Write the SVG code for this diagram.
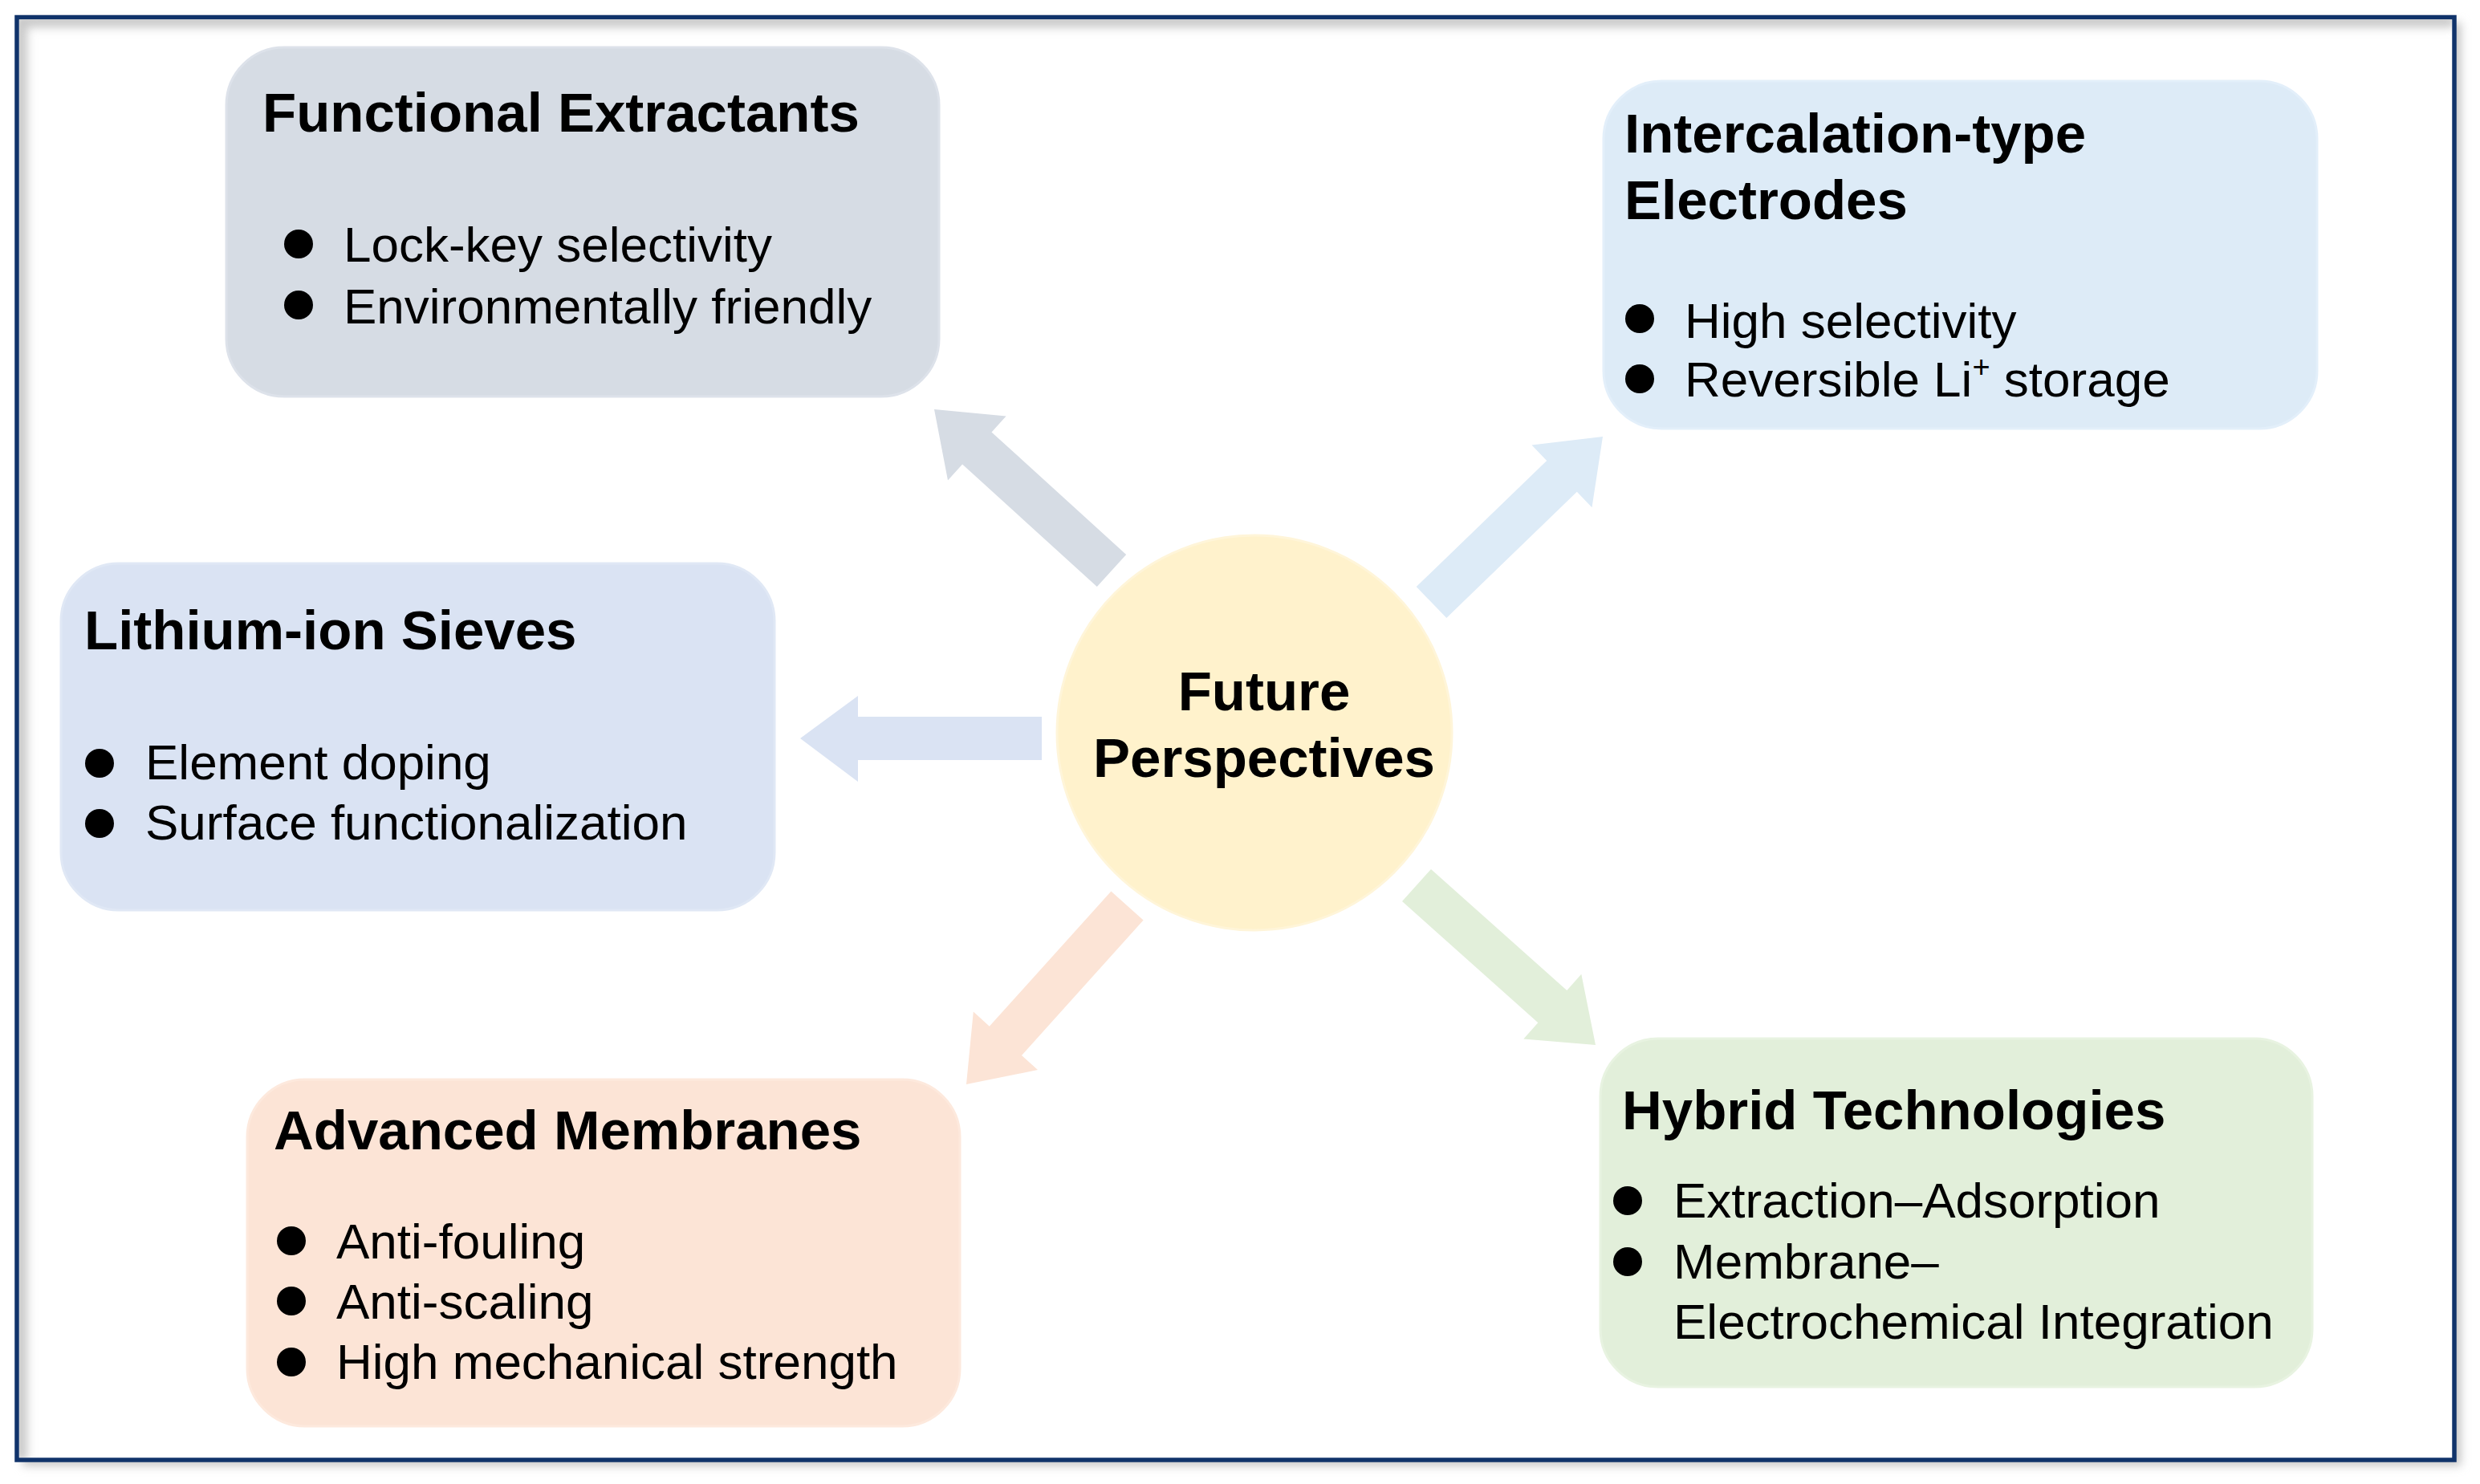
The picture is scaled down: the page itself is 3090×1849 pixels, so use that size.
<svg xmlns="http://www.w3.org/2000/svg" width="3090" height="1849" viewBox="0 0 3090 1849">
<style>
.title{font-family:"Liberation Sans",Arial,sans-serif;font-weight:bold;font-size:69px;fill:#000}
.item{font-family:"Liberation Sans",Arial,sans-serif;font-size:62px;fill:#000}
.dot{fill:#000}
</style>
<defs>
<filter id="blur" x="-5%" y="-5%" width="110%" height="110%"><feGaussianBlur stdDeviation="6"/></filter>
<clipPath id="inner"><rect x="24" y="24" width="3031" height="1792"/></clipPath>
</defs>
<rect width="3090" height="1849" fill="#fff"/>
<g id="frame">
<rect x="28" y="28" width="3038" height="1798" fill="#c4c4c4" filter="url(#blur)"/>
<rect x="21" y="21.5" width="3037" height="1797.5" fill="#fff" stroke="#10336a" stroke-width="5.5"/>
<g clip-path="url(#inner)">
<path d="M26,1820 L26,26 L3058,26" fill="none" stroke="#c8c8c8" stroke-width="16" filter="url(#blur)"/>
</g>
</g>
<g id="connectors">
<polygon fill="#d6dce4" points="1403.2,691.0 1235.5,538.4 1253.6,518.4 1164,510 1181.0,598.4 1199.1,578.4 1366.8,731.0"/>
<polygon fill="#ddebf7" points="1764.7,731.1 1927.2,574.0 1908.5,554.6 1997,544 1983.5,632.2 1964.8,612.8 1802.3,769.9"/>
<polygon fill="#e2efda" points="1783.0,1082.9 1952.3,1234.0 1970.3,1213.8 1988,1302 1898.3,1294.4 1916.3,1274.2 1747.0,1123.1"/>
<polygon fill="#fce4d6" points="1384.4,1110.4 1232.8,1278.7 1212.8,1260.6 1204,1351 1293.0,1333.0 1273.0,1314.9 1424.6,1146.6"/>
<polygon fill="#dae3f3" points="1298,893 1069,893 1069,867 997,920 1069,974 1069,947 1298,947"/>
</g>
<g id="center">
<circle cx="1563" cy="913" r="246" fill="#fff2cc" stroke="#fff5d9" stroke-width="3"/>
<text class="title" x="1575" y="885" text-anchor="middle">Future</text>
<text class="title" x="1575" y="968" text-anchor="middle">Perspectives</text>
</g>
<g id="functional-extractants">
<rect x="282" y="59" width="888" height="435" rx="72" fill="#d6dce4" stroke="#dde2ea" stroke-width="3"/>
<text class="title" x="327" y="164">Functional Extractants</text>
<circle class="dot" cx="372" cy="304" r="18"/>
<text class="item" x="428" y="326">Lock-key selectivity</text>
<circle class="dot" cx="372" cy="380" r="18"/>
<text class="item" x="428" y="403">Environmentally friendly</text>
</g>
<g id="intercalation-electrodes">
<rect x="1998" y="101" width="889" height="433" rx="72" fill="#ddebf7" stroke="#e3effa" stroke-width="3"/>
<text class="title" x="2024" y="190">Intercalation-type</text>
<text class="title" x="2024" y="273">Electrodes</text>
<circle class="dot" cx="2043" cy="397" r="18"/>
<text class="item" x="2099" y="421">High selectivity</text>
<circle class="dot" cx="2043" cy="472" r="18"/>
<text class="item" x="2099" y="494">Reversible Li<tspan font-size="38" dy="-24">+</tspan><tspan dy="24"> storage</tspan></text>
</g>
<g id="lithium-ion-sieves">
<rect x="76" y="702" width="889" height="432" rx="72" fill="#dae3f3" stroke="#e0e8f5" stroke-width="3"/>
<text class="title" x="105" y="809">Lithium-ion Sieves</text>
<circle class="dot" cx="124" cy="951" r="18"/>
<text class="item" x="181" y="971">Element doping</text>
<circle class="dot" cx="124" cy="1026" r="18"/>
<text class="item" x="181" y="1046">Surface functionalization</text>
</g>
<g id="advanced-membranes">
<rect x="308" y="1345" width="888" height="432" rx="72" fill="#fce4d6" stroke="#fde9dd" stroke-width="3"/>
<text class="title" x="341" y="1432">Advanced Membranes</text>
<circle class="dot" cx="363" cy="1546" r="18"/>
<text class="item" x="419" y="1568">Anti-fouling</text>
<circle class="dot" cx="363" cy="1621" r="18"/>
<text class="item" x="419" y="1643">Anti-scaling</text>
<circle class="dot" cx="363" cy="1697" r="18"/>
<text class="item" x="419" y="1718">High mechanical strength</text>
</g>
<g id="hybrid-technologies">
<rect x="1994" y="1294" width="887" height="434" rx="72" fill="#e2efda" stroke="#e8f3e1" stroke-width="3"/>
<text class="title" x="2021" y="1407">Hybrid Technologies</text>
<circle class="dot" cx="2028" cy="1496" r="18"/>
<text class="item" x="2085" y="1517">Extraction–Adsorption</text>
<circle class="dot" cx="2028" cy="1572" r="18"/>
<text class="item" x="2085" y="1593">Membrane–</text>
<text class="item" x="2085" y="1668">Electrochemical Integration</text>
</g>
</svg>
